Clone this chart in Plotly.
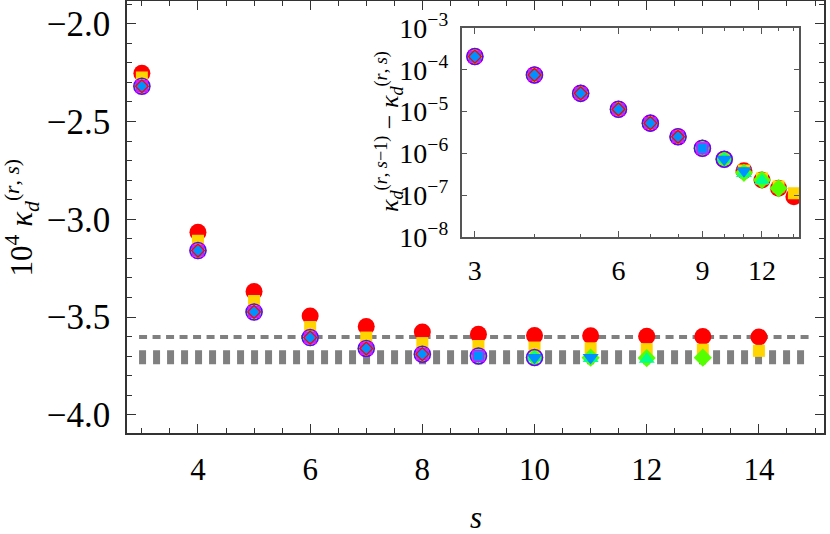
import plotly.graph_objects as go

# ---------------- data ----------------
s_vals = [3, 4, 5, 6, 7, 8, 9, 10, 11, 12, 13, 14]

# main panel: 10^4 kappa_d^(r,s)
k_red = [-2.254, -3.066, -3.370, -3.495, -3.548, -3.577, -3.588, -3.594, -3.596, -3.598, -3.599, -3.602]
k_gold = [-2.275, -3.110, -3.418, -3.551, -3.605, -3.633, -3.648, -3.656, -3.660, -3.664, -3.667, -3.673]
k_green = [-2.320, -3.160, -3.474, -3.605, -3.661, -3.690, -3.699, -3.707, -3.708, -3.710, -3.708]
k_spring = [-2.320, -3.160, -3.474, -3.605, -3.661, -3.690, -3.699, -3.707, -3.712, -3.716]
k_blue = [-2.320, -3.160, -3.474, -3.605, -3.661, -3.690, -3.699, -3.707, -3.707]
k_violet = [-2.320, -3.160, -3.474, -3.605, -3.661, -3.690, -3.699, -3.707]
k_magenta = [-2.320, -3.160, -3.474, -3.605, -3.661, -3.690, -3.699]
k_tri = [-2.318, -3.158, -3.472, -3.603, -3.659, -3.688]
k_rdiam = [-2.320, -3.160, -3.474, -3.605, -3.661, -3.690]

# reference levels (dashed lines)
ref_thin = -3.602
ref_thick = -3.706
ref_span = [2.95, 14.92]

# inset: kappa^(s-1) - kappa^(s)
d_red = [2.1e-4, 7.6e-5, 2.75e-5, 1.14e-5, 5.3e-6, 2.5e-6, 1.32e-6, 7.2e-7, 3.8e-7, 2.3e-7, 1.45e-7, 9.1e-8]
d_gold = [2.1e-4, 7.6e-5, 2.75e-5, 1.14e-5, 5.3e-6, 2.5e-6, 1.32e-6, 7.2e-7, 3.9e-7, 2.5e-7, 1.6e-7, 1.1e-7]
d_green = [2.1e-4, 7.6e-5, 2.75e-5, 1.14e-5, 5.3e-6, 2.5e-6, 1.32e-6, 7.2e-7, 3.4e-7, 2.3e-7, 1.45e-7]
d_spring = [2.1e-4, 7.6e-5, 2.75e-5, 1.14e-5, 5.3e-6, 2.5e-6, 1.32e-6, 7.2e-7, 3.3e-7, 2.2e-7]
d_blue = [2.1e-4, 7.6e-5, 2.75e-5, 1.14e-5, 5.3e-6, 2.5e-6, 1.32e-6, 7.2e-7, 3.8e-7]
d_violet = [2.1e-4, 7.6e-5, 2.75e-5, 1.14e-5, 5.3e-6, 2.5e-6, 1.32e-6, 7.2e-7]
d_magenta = [2.1e-4, 7.6e-5, 2.75e-5, 1.14e-5, 5.3e-6, 2.5e-6, 1.32e-6]
d_tri = [2.1e-4, 7.6e-5, 2.75e-5, 1.14e-5, 5.3e-6, 2.5e-6]
d_rdiam = [2.1e-4, 7.6e-5, 2.75e-5, 1.14e-5, 5.3e-6, 2.5e-6]

main_xticks = [4, 6, 8, 10, 12, 14]
main_yticks = [-4.0, -3.5, -3.0, -2.5, -2.0]
inset_xticks = [3, 6, 9, 12]
inset_xminor = [4, 5, 7, 8, 10, 11, 13, 14]
inset_yticks = [1e-8, 1e-7, 1e-6, 1e-5, 1e-4, 1e-3]
inset_ytext = ["10<sup>−8</sup>", "10<sup>−7</sup>", "10<sup>−6</sup>", "10<sup>−5</sup>",
               "10<sup>−4</sup>", "10<sup>−3</sup>"]

# ---------------- styles ----------------
RED = "#FF0000"
GOLD = "#FFD400"
GREEN = "#55FF00"
SPRING = "#00FF8C"
BLUE = "#0090FF"
VIOLET = "#6A00FF"
MAGENTA = "#FF00FF"

FONT = "Liberation Serif, serif"

series = [
    (k_red, d_red, dict(symbol="circle", size=17, color=RED, line=dict(width=0))),
    (k_gold, d_gold, dict(symbol="square", size=12, color=GOLD, line=dict(width=0))),
    (k_green, d_green, dict(symbol="diamond", size=14, color=GREEN, line=dict(width=0))),
    (k_spring, d_spring, dict(symbol="triangle-up", size=14, color=SPRING, line=dict(width=0))),
    (k_blue, d_blue, dict(symbol="triangle-down", size=14, color=BLUE, line=dict(width=0))),
    (k_violet, d_violet, dict(symbol="circle-open", size=16, color=VIOLET, line=dict(width=1.6))),
    (k_magenta, d_magenta, dict(symbol="square", size=11, color=BLUE, line=dict(width=1.3, color=MAGENTA))),
    (k_tri, d_tri, dict(symbol="triangle-up", size=11, color=BLUE, line=dict(width=0))),
    (k_rdiam, d_rdiam, dict(symbol="diamond-open", size=10, color=RED, line=dict(width=1.2))),
]

fig = go.Figure()

# reference dashed lines
fig.add_trace(go.Scatter(x=ref_span, y=[ref_thick, ref_thick], mode="lines",
                         line=dict(color="#808080", width=14, dash="7px,7px"),
                         showlegend=False, hoverinfo="skip"))
fig.add_trace(go.Scatter(x=ref_span, y=[ref_thin, ref_thin], mode="lines",
                         line=dict(color="#808080", width=4, dash="8px,5.5px"),
                         showlegend=False, hoverinfo="skip"))

for kv, dv, mk in series:
    fig.add_trace(go.Scatter(x=s_vals[:len(kv)], y=kv, mode="markers", marker=mk,
                             showlegend=False, xaxis="x", yaxis="y"))
for kv, dv, mk in series:
    fig.add_trace(go.Scatter(x=s_vals[:len(dv)], y=dv, mode="markers", marker=mk,
                             showlegend=False, xaxis="x2", yaxis="y2"))

AX = "#333333"
fig.update_layout(
    width=830, height=534,
    margin=dict(l=127, r=6, t=1, b=101, autoexpand=False),
    paper_bgcolor="white", plot_bgcolor="white",
    font=dict(family=FONT, color="black", size=30),
    xaxis=dict(range=[2.735, 15.16], tickvals=main_xticks, ticks="inside", ticklen=9,
               tickwidth=1.3, tickcolor=AX, showline=True, linecolor=AX, linewidth=1.5,
               mirror="allticks", showgrid=False, zeroline=False,
               minor=dict(dtick=0.5, ticklen=5, tickwidth=1, tickcolor=AX, ticks="inside"),
               tickfont=dict(size=31, family=FONT), ticklabelstandoff=8),
    yaxis=dict(range=[-4.093, -1.884], tickvals=main_yticks, tickformat=".1f",
               ticks="inside", ticklen=9, tickwidth=1.3, tickcolor=AX, showline=True,
               linecolor=AX, linewidth=1.5, mirror="allticks", showgrid=False, zeroline=False,
               minor=dict(dtick=0.1, ticklen=5, tickwidth=1, tickcolor=AX, ticks="inside"),
               tickfont=dict(size=35, family=FONT), ticklabelstandoff=8),
    xaxis2=dict(domain=[0.480, 0.9646], anchor="y2", type="log",
                range=[0.4492, 1.1575], tickvals=inset_xticks, ticktext=[str(v) for v in inset_xticks],
                ticks="inside", ticklen=6, tickwidth=1, tickcolor="#555", showline=True,
                linecolor="#555", linewidth=1.5, mirror="allticks", showgrid=False, zeroline=False,
                minor=dict(tickvals=inset_xminor, ticklen=3, tickwidth=1, tickcolor="#555", ticks="inside"),
                tickfont=dict(size=28, family=FONT), ticklabelstandoff=8),
    yaxis2=dict(domain=[0.4544, 0.9368], anchor="x2", type="log", range=[-8, -3],
                tickvals=inset_yticks, ticktext=inset_ytext,
                ticks="inside", ticklen=6, tickwidth=1, tickcolor="#555", showline=True,
                linecolor="#555", linewidth=1.5, mirror="allticks", showgrid=False, zeroline=False,
                tickfont=dict(size=28, family=FONT), ticklabelstandoff=6),
    annotations=[
        dict(text="10<sup>4</sup> <i>κ</i><sub><i>d</i></sub><sup>(<i>r</i>, <i>s</i>)</sup>",
             xref="paper", yref="paper", x=-0.150, y=0.5, textangle=-90, showarrow=False,
             font=dict(size=31, family=FONT), xanchor="center", yanchor="middle"),
        dict(text="<i>s</i>", xref="paper", yref="paper", x=0.5, y=-0.195, showarrow=False,
             font=dict(size=31, family=FONT), xanchor="center", yanchor="middle"),
        dict(text="<i>κ</i><sub><i>d</i></sub><sup>(<i>r</i>, <i>s</i>−1)</sup> − "
                  "<i>κ</i><sub><i>d</i></sub><sup>(<i>r</i>, <i>s</i>)</sup>",
             xref="paper", yref="paper", x=(389 - 127) / 697, y=(433 - 132) / 432,
             textangle=-90, showarrow=False, font=dict(size=26, family=FONT),
             xanchor="center", yanchor="middle"),
    ],
)

fig.write_html("out.html", config={"displayModeBar": False},
               post_script="document.body.style.margin='0';document.body.style.padding='0';")
